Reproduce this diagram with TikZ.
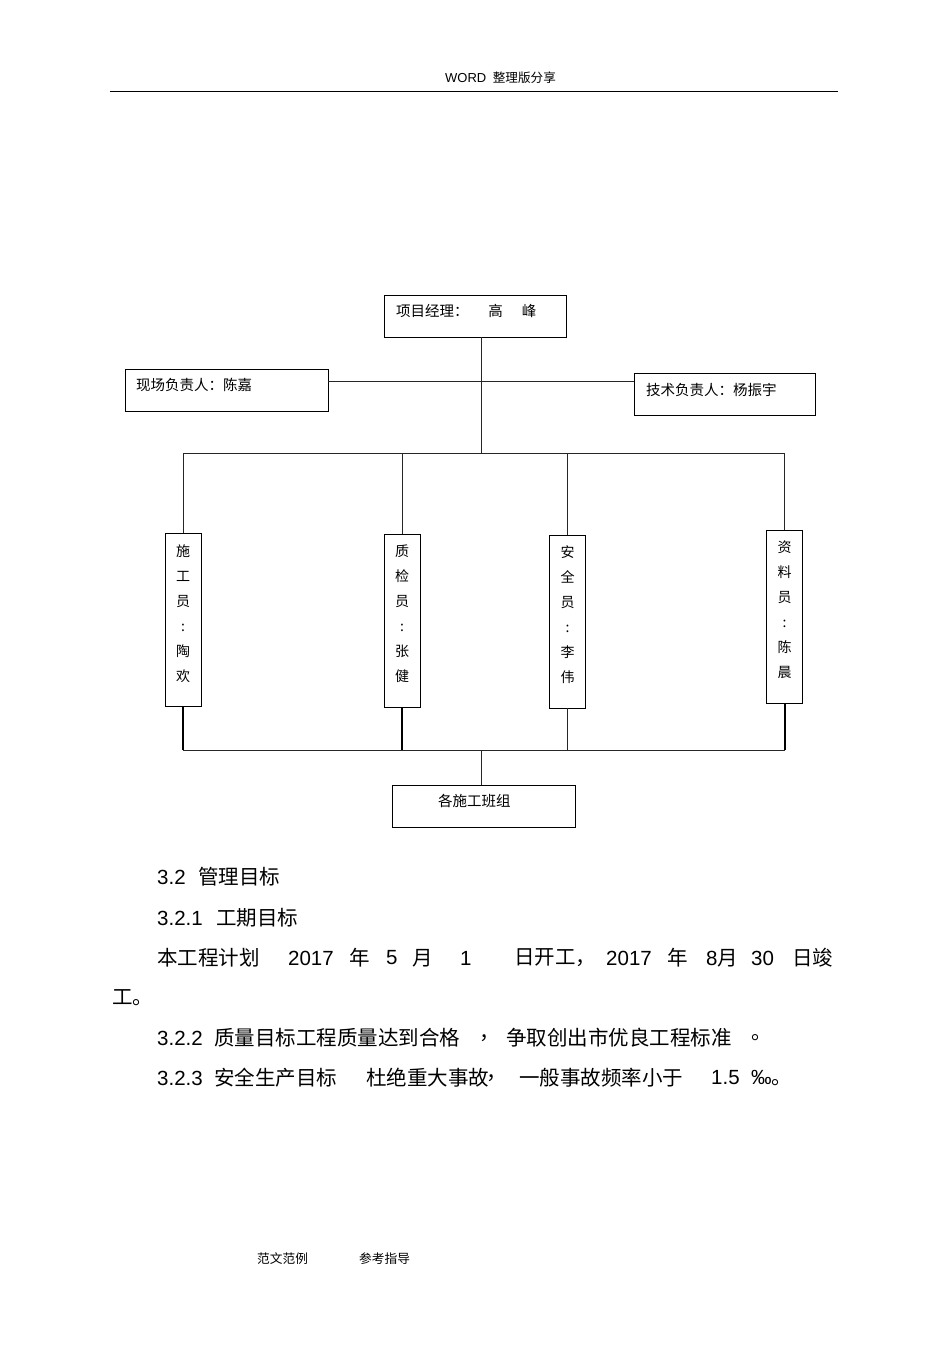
\documentclass[tikz,border=0pt]{standalone}
\usepackage{fontspec}
\setmainfont{Liberation Sans}
\newfontfamily\cn{Noto Sans CJK SC}
\usetikzlibrary{positioning}

\begin{document}
\begin{tikzpicture}[
    x=1pt,
    y=-1pt,
    box/.style={
        draw,
        line width=0.9pt,
        minimum height=42pt,
        inner xsep=12pt,
        align=left,
        text height=12pt,
        text depth=11pt,
        font=\cn\fontsize{14.5}{17}\selectfont
    },
    member/.style={
        draw,
        line width=0.9pt,
        minimum width=36pt,
        minimum height=173pt
    },
    vtext/.style={
        inner sep=0pt,
        align=center,
        font=\cn\fontsize{14}{25}\selectfont
    },
    link/.style={
        line width=0.9pt,
        draw=black!85
    },
    heavy/.style={
        line width=2pt
    },
    body/.style={
        anchor=west,
        inner sep=0pt,
        font=\fontsize{20.5}{24}\selectfont
    },
    small/.style={
        anchor=west,
        inner sep=0pt,
        font=\fontsize{12.7}{15}\selectfont
    }
]

\useasboundingbox (0,0) rectangle (950,1345);

% =================================================
% 页眉
% =================================================

\node[small, font=\fontsize{13}{15}\selectfont] (hdr) at (445,78) {WORD\hspace{6.5pt}{\cn\fontsize{12.6}{15}\selectfont 整理版分享}};
\draw[line width=0.9pt] (110,91) -- (838,91);

% =================================================
% 组织机构框
% =================================================

\node[box, text width=158pt] (jingli) at (475,316) {项目经理：\hspace{20pt}高\hspace{19pt}峰};
\node[box, inner xsep=11pt, text width=181pt] (xianchang) at (226.5,390) {现场负责人：陈嘉};
\node[box, text width=157pt] (jishu) at (724.5,394.5) {技术负责人：杨振宇};

\node[member] (shigong) at (183,620) {};
\node[member] (zhijian) at (402,621) {};
\node[member] (anquan)  at (567.5,621.5) {};
\node[member] (ziliao)  at (784.5,616.5) {};

\node[vtext, below=11pt of shigong.north] (shigongt) {施\\工\\员\\:\\陶\\欢};
\node[vtext, below=11pt of zhijian.north] (zhijiant) {质\\检\\员\\:\\张\\健};
\node[vtext, below=11pt of anquan.north]  (anquant)  {安\\全\\员\\:\\李\\伟};
\node[vtext, below=11pt of ziliao.north]  (ziliaot)  {资\\料\\员\\:\\陈\\晨};

\node[box, inner xsep=46pt, text width=91pt] (banzu) at (483.5,806) {各施工班组};

% =================================================
% 连线
% =================================================

\coordinate (hub)    at (481,381);
\coordinate (topbus) at (481,453);
\coordinate (lowbus) at (481,750);

\draw[link] (hub |- jingli.south) -- (topbus);
\draw[link] (xianchang.east |- hub) -- (jishu.west |- hub);
\draw[link] (shigong.north |- topbus) -- (ziliao.north |- topbus);

\foreach \m in {shigong,zhijian,anquan,ziliao}
    \draw[link] (\m.north |- topbus) -- (\m.north);

\foreach \m in {shigong,zhijian,ziliao}
    \draw[heavy] (\m.south) -- (\m.south |- lowbus);
\draw[link] (anquan.south) -- (anquan.south |- lowbus);

\draw[link] (shigong.south |- lowbus) -- (ziliao.south |- lowbus);
\draw[link] (lowbus) -- (lowbus |- banzu.north);

% =================================================
% 正文
% =================================================

\node[body] (s32)   at (157,877) {3.2};
\node[body] (s32t)  at (198,877) {\cn 管理目标};

\node[body] (s321)  at (157,918) {3.2.1};
\node[body] (s321t) at (216,918) {\cn 工期目标};

\node[body] (jh)    at (157,958) {\cn 本工程计划};
\node[body] (nian1) at (288,958) {2017};
\node[body] (n1)    at (349,958) {\cn 年};
\node[body] (m1)    at (386,958) {5};
\node[body] (yue1)  at (412,958) {\cn 月};
\node[body] (r1)    at (460,958) {1};
\node[body] (kg)    at (514,958) {\cn 日开工，};
\node[body] (nian2) at (606,958) {2017};
\node[body] (n2)    at (667,958) {\cn 年};
\node[body] (yue2)  at (706,958) {8{\cn 月}};
\node[body] (r2)    at (751,958) {30};
\node[body] (jg)    at (792,958) {\cn 日竣};
\node[body] (gong)  at (112,998) {\cn 工。};

\node[body] (s322)  at (157,1038) {3.2.2};
\node[body] (zl)    at (214,1038) {\cn 质量目标工程质量达到合格};
\node[body] (zd1)   at (479,1038) {\cn ，};
\node[body] (zq)    at (506,1038) {\cn 争取创出市优良工程标准};
\node[body] (jd1)   at (751,1038) {\cn 。};

\node[body] (s323)  at (157,1078) {3.2.3};
\node[body] (aq)    at (214,1078) {\cn 安全生产目标};
\node[body] (dj)    at (366,1078) {\cn 杜绝重大事故};
\node[body] (zd2)   at (486,1078) {\cn ，};
\node[body] (yb)    at (519,1078) {\cn 一般事故频率小于};
\node[body] (v15)   at (711,1078) {1.5};
\node[body] (pm)    at (751,1078) {‰{\cn 。}};

% =================================================
% 页脚
% =================================================

\node[small] (fw1) at (257,1259) {\cn 范文范例};
\node[small] (fw2) at (359,1259) {\cn 参考指导};

\end{tikzpicture}
\end{document}
